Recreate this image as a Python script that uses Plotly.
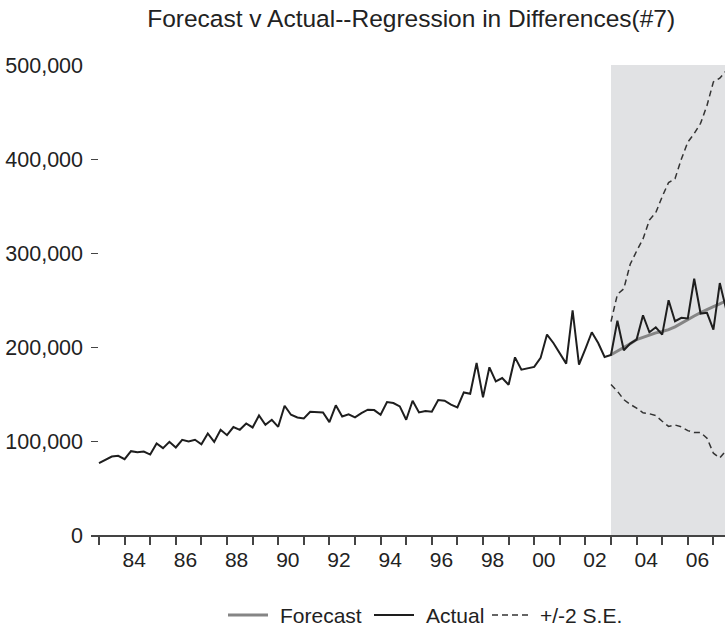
import plotly.graph_objects as go

# Quarterly observations, 1983Q1 - 2007Q3
start_year = 1983
actual = [
    76.4, 79.6, 83.5, 84.2,      # 1983
    80.7, 89.2, 88.1, 88.8,      # 1984
    85.6, 97.4, 92.4, 99.1,      # 1985
    93.1, 101.3, 99.5, 101.3,    # 1986
    96.6, 108.0, 99.1, 111.9,    # 1987
    106.2, 114.8, 111.9, 118.7,  # 1988
    114.4, 127.2, 117.3, 122.6,  # 1989
    115.1, 137.5, 127.9, 125.1,  # 1990
    124.0, 131.1, 130.8, 130.4,  # 1991
    120.1, 137.9, 126.1, 128.3,  # 1992
    125.1, 129.7, 133.3, 132.9,  # 1993
    127.9, 141.4, 140.4, 136.8,  # 1994
    122.6, 142.8, 130.4, 131.8,  # 1995
    131.1, 143.6, 142.8, 138.6,  # 1996
    135.7, 151.7, 150.3, 183.0,  # 1997
    146.4, 178.4, 163.4, 167.0,  # 1998
    159.9, 189.0, 175.9, 177.7,  # 1999
    178.8, 188.4, 213.2, 204.3,  # 2000
    192.6, 182.3, 239.1, 181.2,  # 2001
    197.9, 215.7, 204.3, 189.4,  # 2002
    191.5, 228.0, 196.5, 203.6,  # 2003
    207.9, 233.8, 215.7, 221.0,  # 2004
    213.2, 249.8, 227.4, 231.0,  # 2005
    230.3, 272.6, 235.6, 236.3,  # 2006
    218.5, 268.0, 240.0,         # 2007
]

# Forecast sample, 2003Q1 - 2007Q3
fc_start = 2003.0
forecast = [191.7, 195.5, 199.2, 203.5, 207.9, 210.5, 213.0, 215.0, 216.5,
            218.5, 221.5, 225.5, 229.5, 233.0, 236.5, 240.0, 243.0, 246.0, 249.0]
upper = [227.0, 256.0, 262.0, 288.0, 302.0, 315.0, 335.0, 343.0, 360.0,
         375.0, 379.0, 400.0, 418.0, 427.0, 438.0, 457.0, 482.0, 486.0, 494.0]
lower = [160.0, 153.0, 144.0, 139.0, 135.0, 130.0, 129.0, 127.0, 121.0,
         115.5, 117.0, 115.0, 111.0, 109.0, 109.0, 103.0, 87.0, 82.0, 90.0]

year_labels = ["84", "86", "88", "90", "92", "94", "96", "98", "00", "02", "04", "06"]
label_years = [1984 + 2 * i for i in range(len(year_labels))]
y_ticks = [0, 100000, 200000, 300000, 400000, 500000]

t_all = [start_year + i / 4 for i in range(len(actual))]
t_fc = [fc_start + i / 4 for i in range(len(forecast))]

FONT = "Liberation Sans, Arial, sans-serif"
INK = "#222222"
W, H = 725, 631
ML, MR, MT, MB = 91, 0, 65, 96
PW, PH = W - ML - MR, H - MT - MB

styles = {
    "Forecast": dict(color="#858585", width=3),
    "Actual": dict(color="#1e1e1e", width=2),
    "+/-2 S.E.": dict(color="#333333", width=1.5, dash="6px,4px"),
}

fig = go.Figure()
fig.add_trace(go.Scatter(x=t_fc, y=[v * 1000 for v in forecast], mode="lines",
                         name="Forecast", line=styles["Forecast"]))
fig.add_trace(go.Scatter(x=t_all, y=[v * 1000 for v in actual], mode="lines",
                         name="Actual", line=styles["Actual"]))
fig.add_trace(go.Scatter(x=t_fc, y=[v * 1000 for v in upper], mode="lines",
                         name="+/-2 S.E.", line=styles["+/-2 S.E."]))
fig.add_trace(go.Scatter(x=t_fc, y=[v * 1000 for v in lower], mode="lines",
                         name="+/-2 S.E.", line=styles["+/-2 S.E."]))

# forecast period shading
fig.add_shape(type="rect", xref="x", yref="paper", x0=fc_start, x1=2008.5,
              y0=0, y1=1, fillcolor="#e1e2e4", line_width=0, layer="below")


def px_x(px):
    return (px - ML) / PW


def px_y(py):
    return (H - MB - py) / PH


# legend row below the axis: sample line + label for each series
legend_row_y = 615
legend_items = [("Forecast", 228, 278), ("Actual", 374, 424), ("+/-2 S.E.", 492, 538)]
for name, line_x0, text_x in legend_items:
    st = styles[name]
    fig.add_shape(type="line", xref="paper", yref="paper",
                  x0=px_x(line_x0), x1=px_x(line_x0 + 40),
                  y0=px_y(legend_row_y), y1=px_y(legend_row_y),
                  line=dict(color=st["color"], width=st["width"],
                            dash=st.get("dash", "solid")))
    fig.add_annotation(xref="paper", yref="paper", x=px_x(text_x),
                       y=px_y(legend_row_y), text=name, showarrow=False,
                       xanchor="left", yanchor="middle",
                       font=dict(size=21, color=INK))

fig.update_layout(
    width=W, height=H,
    margin=dict(l=ML, r=MR, t=MT, b=MB),
    paper_bgcolor="white", plot_bgcolor="white",
    font=dict(family=FONT, size=21, color=INK),
    title=dict(text="Forecast v Actual--Regression in Differences(#7)",
               x=0.505, xref="paper", xanchor="center",
               y=1 - 18 / H, yref="container", yanchor="middle",
               font=dict(size=24.5, color=INK)),
    showlegend=False,
    xaxis=dict(
        range=[1982.6875, 2007.453],
        tickmode="array",
        tickvals=[y + 0.375 for y in label_years],
        ticktext=year_labels,
        ticks="", showgrid=False, zeroline=False,
        showline=True, linecolor="#444444", linewidth=2,
        ticklabelstandoff=5,
        minor=dict(tickmode="array", tickvals=list(range(1983, 2008)),
                   ticks="outside", ticklen=8, tickwidth=1.5,
                   tickcolor="#444444", showgrid=False),
    ),
    yaxis=dict(
        range=[0, 500000],
        tickmode="array", tickvals=y_ticks,
        ticktext=[f"{v:,}" for v in y_ticks],
        ticks="inside", ticklen=7, tickwidth=1.2, tickcolor="#444444",
        showline=False, showgrid=False, zeroline=False,
        ticklabelstandoff=7, tickfont=dict(size=21.5),
    ),
)

fig.write_html("out.html")
